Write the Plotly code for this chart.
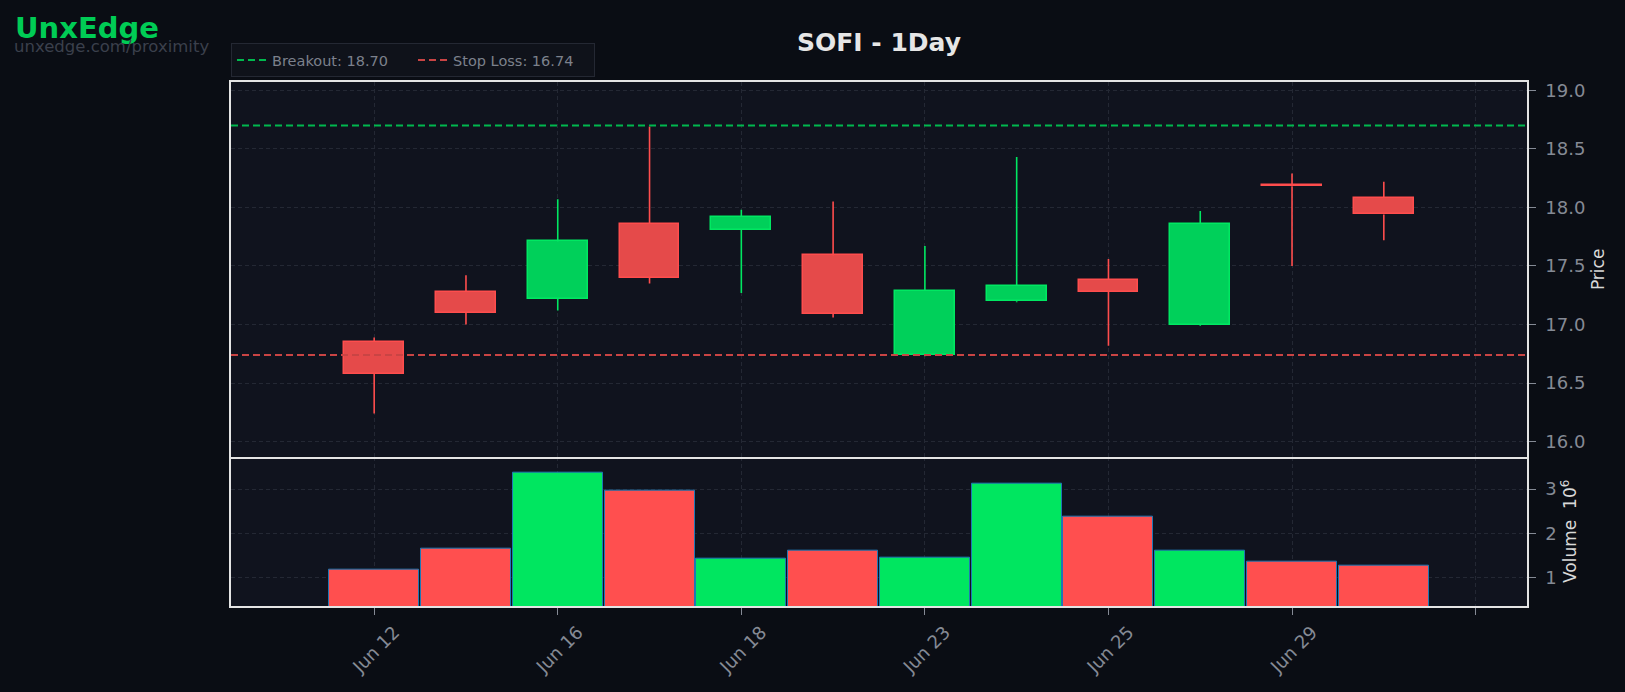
import plotly.graph_objects as go

# ---------------- data ----------------
ticker = "SOFI"
interval = "1Day"
tick_positions = [0, 2, 4, 6, 8, 10, 12]
tick_labels = ["Jun 12", "Jun 16", "Jun 18", "Jun 23", "Jun 25", "Jun 29", ""]

opens = [16.85, 17.28, 17.22, 17.86, 17.81, 17.59, 16.74, 17.20, 17.38, 17.00, 18.19, 18.08]
highs = [16.89, 17.42, 18.07, 18.69, 17.98, 18.05, 17.67, 18.43, 17.56, 17.97, 18.29, 18.22]
lows = [16.24, 17.00, 17.12, 17.35, 17.27, 17.06, 16.73, 17.19, 16.82, 16.99, 17.50, 17.72]
closes = [16.58, 17.10, 17.71, 17.40, 17.92, 17.09, 17.29, 17.33, 17.28, 17.86, 18.18, 17.94]
volumes_m = [1.17, 1.66, 3.38, 2.97, 1.42, 1.60, 1.44, 3.11, 2.38, 1.62, 1.37, 1.28]

breakout = 18.70
stop_loss = 16.74

# ---------------- styles ----------------
FONT = "DejaVu Sans"
BG = "#0a0d14"
PLOT_BG = "#10131e"
GRID = "#242834"
FRAME = "#e4e4e4"
TICK_COL = "#858a95"
UP_FILL, UP_EDGE = "#00d05a", "#00e862"
DN_FILL, DN_EDGE = "#e54a4a", "#ff4d4d"
VOL_UP, VOL_DN = "#00e660", "#ff4f4f"

x_range = [-1.56, 12.56]
price_range = [15.872, 19.071]
vol_range = [0.36, 3.73]

idx = list(range(len(opens)))
is_up = [c >= o for o, c in zip(opens, closes)]

fig = go.Figure()

# wicks (split above / below the body so the body stays clean)
for up_flag, col in ((True, UP_EDGE), (False, DN_EDGE)):
    wx, wy = [], []
    for i in idx:
        if is_up[i] != up_flag:
            continue
        top = max(opens[i], closes[i])
        bot = min(opens[i], closes[i])
        wx += [i, i, None, i, i, None]
        wy += [top, highs[i], None, lows[i], bot, None]
    fig.add_trace(go.Scatter(x=wx, y=wy, mode="lines", line=dict(color=col, width=1.6),
                             xaxis="x2", yaxis="y2", showlegend=False, hoverinfo="skip"))

# bodies
for up_flag, fill, edge in ((True, UP_FILL, UP_EDGE), (False, DN_FILL, DN_EDGE)):
    bx = [i for i in idx if is_up[i] == up_flag]
    base = [min(opens[i], closes[i]) for i in bx]
    hgt = [max(abs(closes[i] - opens[i]), 0.012) for i in bx]
    fig.add_trace(go.Bar(x=bx, y=hgt, base=base, width=0.65,
                         marker=dict(color=fill, line=dict(color=edge, width=1.5)),
                         xaxis="x2", yaxis="y2", showlegend=False))

# level lines
fig.add_trace(go.Scatter(x=x_range, y=[breakout, breakout], mode="lines",
                         line=dict(color="#00b84e", width=2, dash="7px,4px"),
                         name=f"Breakout: {breakout:.2f}", xaxis="x2", yaxis="y2"))
fig.add_trace(go.Scatter(x=x_range, y=[stop_loss, stop_loss], mode="lines",
                         line=dict(color="#c94444", width=2, dash="7px,4px"),
                         name=f"Stop Loss: {stop_loss:.2f}", xaxis="x2", yaxis="y2"))

# volume
fig.add_trace(go.Bar(x=idx, y=volumes_m, width=0.98,
                     marker=dict(color=[VOL_UP if u else VOL_DN for u in is_up],
                                 line=dict(color="#1f77b4", width=1)),
                     xaxis="x", yaxis="y", showlegend=False))

axis_common = dict(showline=True, mirror=True, linecolor=FRAME, linewidth=1.5,
                   showgrid=True, gridcolor=GRID, griddash="4px,3px", gridwidth=1,
                   zeroline=False, tickfont=dict(family=FONT, size=18, color=TICK_COL),
                   tickcolor=TICK_COL)

fig.update_layout(
    width=1625, height=692,
    margin=dict(l=231, r=98, t=82, b=86),
    paper_bgcolor=BG, plot_bgcolor=PLOT_BG,
    barmode="overlay", bargap=0,
    font=dict(family=FONT, color=TICK_COL),
    title=dict(text=f"<b>{ticker} - {interval}</b>", x=0.5, xref="paper", xanchor="center",
               y=1 - 42.5 / 692, yref="container", yanchor="middle",
               font=dict(family=FONT, size=25, color="#e6e6e6")),
    xaxis=dict(axis_common, mirror=False, domain=[0, 1], anchor="y", range=x_range,
               tickvals=tick_positions, ticktext=tick_labels, tickangle=-45,
               ticks="outside", ticklen=7, ticklabelshift=20, ticklabelstandoff=0),
    xaxis2=dict(axis_common, domain=[0, 1], anchor="y2", range=x_range, matches="x",
                tickvals=tick_positions, showticklabels=False, ticks=""),
    yaxis=dict(axis_common, domain=[0, 0.285], anchor="x", side="right", range=vol_range,
               tickvals=[1, 2, 3], ticktext=["1", "2", "3"], ticks="outside", ticklen=7,
               ticklabelstandoff=6,
               title=dict(text="Volume  10<sup>6</sup>", standoff=8,
                          font=dict(family=FONT, size=17, color="#d8d8d8"))),
    yaxis2=dict(axis_common, domain=[0.285, 1], anchor="x2", side="right", range=price_range,
                dtick=0.5, tick0=16, tickformat=".1f", ticks="outside", ticklen=7,
                ticklabelstandoff=6,
                title=dict(text="Price", standoff=8,
                           font=dict(family=FONT, size=17, color="#d8d8d8"))),
    legend=dict(orientation="h", x=0, xanchor="left", y=1.0095, yanchor="bottom",
                bgcolor="#0f121a", bordercolor="#242833", borderwidth=1,
                entrywidth=136, entrywidthmode="pixels",
                font=dict(family=FONT, size=14.5, color="#7c818c")),
    annotations=[
        dict(text="<b>UnxEdge</b>", xref="paper", yref="paper", x=(13 - 231) / 1296,
             y=(606 - 28) / 524, xanchor="left", yanchor="middle", showarrow=False,
             font=dict(family=FONT, size=29, color="#00cc55")),
        dict(text="unxedge.com/proximity", xref="paper", yref="paper", x=(12 - 231) / 1296,
             y=(606 - 46.6) / 524, xanchor="left", yanchor="middle", showarrow=False,
             font=dict(family=FONT, size=16.5, color="#3b404c")),
    ],
)

fig.write_html("out.html")
